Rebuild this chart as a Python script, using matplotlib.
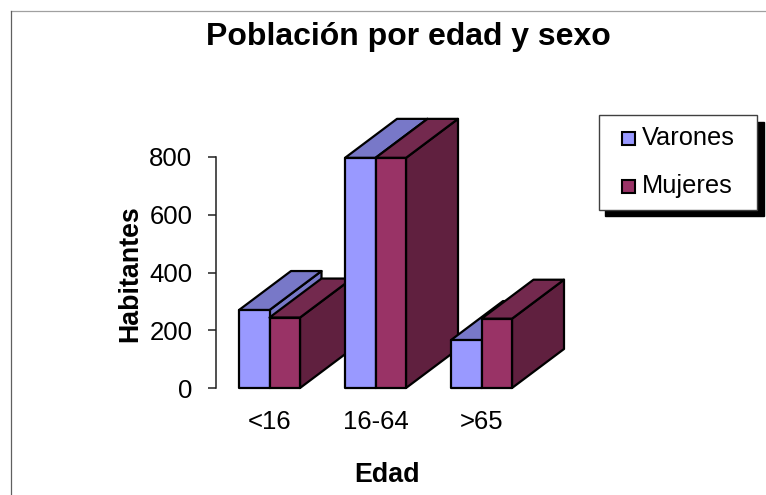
import matplotlib
matplotlib.use("Agg")
import matplotlib.pyplot as plt
from matplotlib.patches import Polygon, Rectangle, Patch
from matplotlib.lines import Line2D

categories = ["<16", "16-64", ">65"]
varones = [270, 797, 166]
mujeres = [244, 797, 240]
yticks = [0, 200, 400, 600, 800]
series = [("Varones", varones), ("Mujeres", mujeres)]
palette = {
    "Varones": ("#9999FF", "#7878C8", "#7878C8"),
    "Mujeres": ("#993366", "#73294E", "#60203F"),
}

W, H = 766, 495
plt.rcParams["font.family"] = ["Liberation Sans", "DejaVu Sans"]
fig = plt.figure(figsize=(W / 100, H / 100), dpi=100, facecolor="white")

# axes box in pixels
L, R, T, B = 216, 586, 157, 388
ax = fig.add_axes([L / W, 1 - B / H, (R - L) / W, (B - T) / H])
ax.set_ylim(0, 800)
group_px = 106.0
x0_px = 269.5
ax.set_xlim((L - x0_px) / group_px, (R - x0_px) / group_px)
ax.patch.set_alpha(0)

bar_w = 30.5 / group_px
dx = 52 / group_px
dy = 39 / (B - T) * 800
lw = 1.6

for i in range(len(categories)):
    for s, (name, vals) in enumerate(series):
        v = vals[i]
        x1 = i - bar_w + s * bar_w
        x2 = x1 + bar_w
        front, top, side = palette[name]
        kw = dict(edgecolor="black", linewidth=lw, clip_on=False, joinstyle="round")
        ax.add_patch(Polygon([(x2, 0), (x2 + dx, dy), (x2 + dx, v + dy), (x2, v)], facecolor=side, **kw))
        ax.add_patch(Polygon([(x1, v), (x2, v), (x2 + dx, v + dy), (x1 + dx, v + dy)], facecolor=top, **kw))
        ax.add_patch(Rectangle((x1, 0), bar_w, v, facecolor=front, **kw))

for sp in ("top", "right", "bottom"):
    ax.spines[sp].set_visible(False)
ax.spines["left"].set_linewidth(1.1)
ax.spines["left"].set_color("#202020")
ax.set_yticks(yticks)
ax.tick_params(axis="y", length=6, width=1.1, color="#202020", pad=11, labelsize=18.5)
ax.set_xticks(range(len(categories)), categories)
ax.tick_params(axis="x", length=0, pad=16, labelsize=18.5)

fig.text(408.5 / W, 1 - 37 / H, "Población por edad y sexo", ha="center", va="center",
         fontsize=23, fontweight="bold")
fig.text(387 / W, 1 - 474.5 / H, "Edad", ha="center", va="center", fontsize=19.3, fontweight="bold")
fig.text(130.5 / W, 1 - 273.5 / H, "Habitantes", ha="center", va="center", rotation=90,
         fontsize=19.3, fontweight="bold")

# outer frame fragments
fig.add_artist(Line2D([11 / W, 1], [1 - 11 / H, 1 - 11 / H], color="#A0A0A0", lw=0.9))
fig.add_artist(Line2D([11 / W, 11 / W], [0, 1 - 11 / H], color="#606060", lw=0.9))


class SwatchHandler:
    """Small square at the right end of the legend handle box."""
    def legend_artist(self, legend, orig_handle, fontsize, handlebox):
        s = 9.4
        r = Rectangle((handlebox.width - s - handlebox.xdescent, 0.3), s, s,
                      facecolor=orig_handle.get_facecolor(), edgecolor="black", linewidth=1.5,
                      transform=handlebox.get_transform())
        handlebox.add_artist(r)
        return r


handles = [Patch(facecolor=palette[n][0], label=n) for n, _ in series]
leg = fig.legend(handles=handles, loc="upper left", mode="expand",
                 bbox_to_anchor=(598.5 / W, 1 - 209 / H, 158.5 / W, 94 / H),
                 fontsize=18.3, frameon=True, fancybox=False, framealpha=1, edgecolor="#404040",
                 borderaxespad=0, borderpad=0.45, handlelength=1.0, handleheight=0.7,
                 handletextpad=0.24, labelspacing=0.93, facecolor="white",
                 handler_map={Patch: SwatchHandler()},
                 shadow={"color": "black", "alpha": 1, "ox": 5, "oy": -5})
leg.get_frame().set_linewidth(1.0)

fig.savefig("out.png", dpi=100, facecolor="white")
